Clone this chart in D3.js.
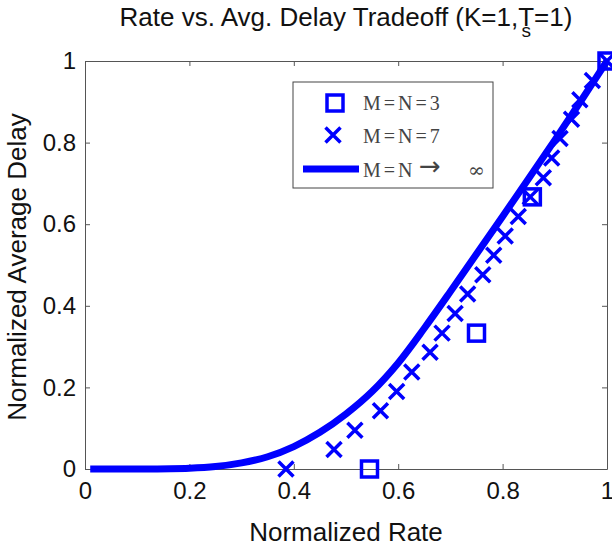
<!DOCTYPE html>
<html lang="en">

<head>
    <script src="https://cdnjs.cloudflare.com/ajax/libs/d3/7.8.5/d3.min.js"></script>
    <style>
        body { margin: 0; background: #fff; }
    </style>
</head>

<body>
    <script>
        var w = 612;
        var h = 550;

        // M=N=3 (squares)
        var rate3 = [0.545, 0.75, 0.857, 1];
        var delay3 = [0, 0.333, 0.667, 1];

        // M=N=7 (crosses)
        var rate7 = [0.385, 0.477, 0.517, 0.566, 0.597, 0.626, 0.661, 0.684, 0.709, 0.733, 0.762,
            0.783, 0.805, 0.830, 0.853, 0.878, 0.894, 0.910, 0.932, 0.948, 0.972, 1];
        var delay7 = [0, 0.048, 0.095, 0.143, 0.190, 0.238, 0.286, 0.333, 0.381, 0.429, 0.476,
            0.524, 0.571, 0.619, 0.667, 0.714, 0.762, 0.810, 0.857, 0.905, 0.952, 1];

        // M=N -> infinity (thick curve)
        var rateInf = [0.01, 0.1, 0.2, 0.25, 0.3, 0.35, 0.4, 0.45, 0.5, 0.55, 0.6, 0.65, 0.7, 0.75, 0.8, 0.85, 0.9, 0.95, 1.0];
        var delayInf = [0, 0, 0.002, 0.006, 0.015, 0.03, 0.055, 0.09, 0.135, 0.19, 0.26, 0.345, 0.435, 0.527, 0.619, 0.712, 0.806, 0.902, 1.0];

        var ticks = [0, 0.2, 0.4, 0.6, 0.8, 1];
        var tickLabels = ["0", "0.2", "0.4", "0.6", "0.8", "1"];

        var blue = "#0000ff";
        var axisColor = "#555";

        var x = d3.scaleLinear().domain([0, 1]).range([85, 607]);
        var y = d3.scaleLinear().domain([0, 1]).range([469, 61]);

        var svg = d3.select("body").append("svg")
            .attr("width", w)
            .attr("height", h)
            .style("font-family", "'Liberation Sans', Arial, sans-serif");

        svg.append("rect").attr("width", w).attr("height", h).attr("fill", "#fff");

        function fmt(d) { return tickLabels[ticks.indexOf(d)]; }

        function styleAxis(g) {
            g.selectAll(".domain").attr("stroke", axisColor);
            g.selectAll(".tick line").attr("stroke", axisColor);
            g.selectAll(".tick text").attr("fill", "#111").style("font-size", "24px");
        }

        // box axes (MATLAB style, ticks inside on all sides)
        svg.append("g").attr("transform", "translate(0," + y(0) + ")")
            .call(d3.axisBottom(x).tickValues(ticks).tickFormat(fmt).tickSizeInner(-5).tickSizeOuter(0).tickPadding(13))
            .call(styleAxis);
        svg.append("g").attr("transform", "translate(0," + y(1) + ")")
            .call(d3.axisTop(x).tickValues(ticks).tickFormat("").tickSizeInner(-5).tickSizeOuter(0))
            .call(styleAxis);
        svg.append("g").attr("transform", "translate(" + x(0) + ",0)")
            .call(d3.axisLeft(y).tickValues(ticks).tickFormat(fmt).tickSizeInner(-5).tickSizeOuter(0).tickPadding(9))
            .call(styleAxis);
        svg.append("g").attr("transform", "translate(" + x(1) + ",0)")
            .call(d3.axisRight(y).tickValues(ticks).tickFormat("").tickSizeInner(-5).tickSizeOuter(0))
            .call(styleAxis);

        // curve
        var line = d3.line()
            .x(d => x(d[0]))
            .y(d => y(d[1]))
            .curve(d3.curveCatmullRom.alpha(0.5));

        svg.append("path")
            .datum(d3.zip(rateInf, delayInf))
            .attr("d", line)
            .attr("fill", "none")
            .attr("stroke", blue)
            .attr("stroke-width", 7);

        // crosses
        var cs = 7.5;
        function crossPath(cx, cy) {
            return "M" + (cx - cs) + "," + (cy - cs) + "L" + (cx + cs) + "," + (cy + cs) +
                "M" + (cx - cs) + "," + (cy + cs) + "L" + (cx + cs) + "," + (cy - cs);
        }
        svg.selectAll(".cross")
            .data(d3.zip(rate7, delay7))
            .enter()
            .append("path")
            .attr("class", "cross")
            .attr("d", d => crossPath(x(d[0]), y(d[1])))
            .attr("stroke", blue)
            .attr("stroke-width", 3.5)
            .attr("fill", "none");

        // squares
        var sq = 16;
        svg.selectAll(".sq")
            .data(d3.zip(rate3, delay3))
            .enter()
            .append("rect")
            .attr("class", "sq")
            .attr("x", d => x(d[0]) - sq / 2)
            .attr("y", d => y(d[1]) - sq / 2)
            .attr("width", sq)
            .attr("height", sq)
            .attr("fill", "none")
            .attr("stroke", blue)
            .attr("stroke-width", 3.5);

        // legend
        var lg = svg.append("g");
        lg.append("rect")
            .attr("x", 293).attr("y", 82)
            .attr("width", 200).attr("height", 106)
            .attr("fill", "#fff")
            .attr("stroke", "#444")
            .attr("stroke-width", 1);

        lg.append("rect")
            .attr("x", 335 - sq / 2).attr("y", 103 - sq / 2)
            .attr("width", sq).attr("height", sq)
            .attr("fill", "none").attr("stroke", blue).attr("stroke-width", 3.5);
        lg.append("path")
            .attr("d", crossPath(333, 135))
            .attr("stroke", blue).attr("stroke-width", 3.5);
        lg.append("line")
            .attr("x1", 303).attr("x2", 359)
            .attr("y1", 169).attr("y2", 169)
            .attr("stroke", blue).attr("stroke-width", 7);

        var legendFont = "'Liberation Serif', 'Times New Roman', serif";
        var legendLabels = ["M=N=3", "M=N=7"];
        lg.selectAll(".ltxt")
            .data(legendLabels)
            .enter()
            .append("text")
            .attr("x", 363)
            .attr("y", (d, i) => 110 + i * 33)
            .text(d => d)
            .style("font-family", legendFont)
            .style("font-size", "20px")
            .style("letter-spacing", "3px")
            .attr("fill", "#444");

        var t3 = lg.append("text")
            .attr("x", 363).attr("y", 177)
            .style("font-family", legendFont)
            .style("font-size", "20px")
            .attr("fill", "#444");
        t3.append("tspan").text("M=N").style("letter-spacing", "3px");
        t3.append("tspan").attr("x", 419).attr("y", 175)
            .style("font-family", "'DejaVu Sans', sans-serif").style("font-size", "26px")
            .text("\u2192");
        t3.append("tspan").attr("x", 468).attr("y", 177)
            .style("font-family", "'DejaVu Serif', serif").style("font-size", "20px")
            .text("\u221e");

        // title
        var title = svg.append("text")
            .attr("x", 346).attr("y", 26)
            .attr("text-anchor", "middle")
            .style("font-size", "26px")
            .attr("fill", "#111");
        title.append("tspan").text("Rate vs. Avg. Delay Tradeoff (K=1,T");
        title.append("tspan").attr("dx", -12.5).attr("dy", 11).style("font-size", "19px").text("s");
        title.append("tspan").attr("dx", 3).attr("dy", -11).text("=1)");

        // axis labels
        svg.append("text")
            .attr("x", 346).attr("y", 541)
            .attr("text-anchor", "middle")
            .style("font-size", "26px")
            .attr("fill", "#111")
            .text("Normalized Rate");

        svg.append("text")
            .attr("transform", "translate(26,267) rotate(-90)")
            .attr("text-anchor", "middle")
            .style("font-size", "26px")
            .attr("fill", "#111")
            .text("Normalized Average Delay");
    </script>
</body>

</html>
